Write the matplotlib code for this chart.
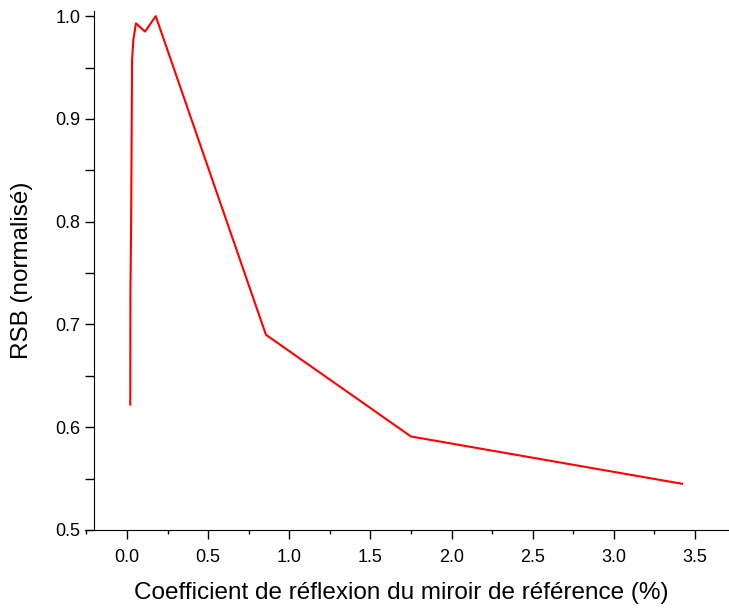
import numpy as np
import matplotlib
matplotlib.use('Agg')
import matplotlib.pyplot as plt
from matplotlib.ticker import MultipleLocator

# reflexion du miroir de reference (%) et RSB normalise
reflexion = [0.020, 0.021, 0.025, 0.029, 0.031, 0.039, 0.055, 0.111, 0.177, 0.856, 1.750, 3.420]
rsb = [0.622, 0.732, 0.792, 0.899, 0.957, 0.977, 0.993, 0.985, 1.000, 0.690, 0.591, 0.545]

plt.rcParams['font.family'] = ['Liberation Sans', 'DejaVu Sans']

fig = plt.figure(figsize=(7.29, 6.08), dpi=100)
ax = fig.add_axes([85 / 729, 78 / 608, 644 / 729, 519 / 608])

ax.plot(reflexion, rsb, color='#ff0000', lw=1.5)

ax.set_xlim(-0.259, 3.71)
ax.set_ylim(0.5, 1.005)
ax.spines['top'].set_visible(False)
ax.spines['right'].set_visible(False)
ax.spines['left'].set_position(('data', -0.203))
ax.spines['left'].set_bounds(0.5, 1.005)

ax.xaxis.set_major_locator(MultipleLocator(0.5))
ax.xaxis.set_minor_locator(MultipleLocator(0.25))
ax.yaxis.set_major_locator(MultipleLocator(0.1))
ax.yaxis.set_minor_locator(MultipleLocator(0.05))
ax.tick_params(axis='x', which='major', direction='out', length=6.5, width=1, labelsize=13, pad=7)
ax.tick_params(axis='x', which='minor', direction='out', length=3, width=1)
ax.tick_params(axis='y', which='both', direction='out', length=6.5, width=1, labelsize=13)

ax.set_xlabel('Coefficient de réflexion du miroir de référence (%)', fontsize=17.5)
ax.xaxis.set_label_coords(0.491, -0.101)
ax.set_ylabel('RSB (normalisé)', fontsize=17.5, labelpad=16)

plt.savefig('out.png', dpi=100)
